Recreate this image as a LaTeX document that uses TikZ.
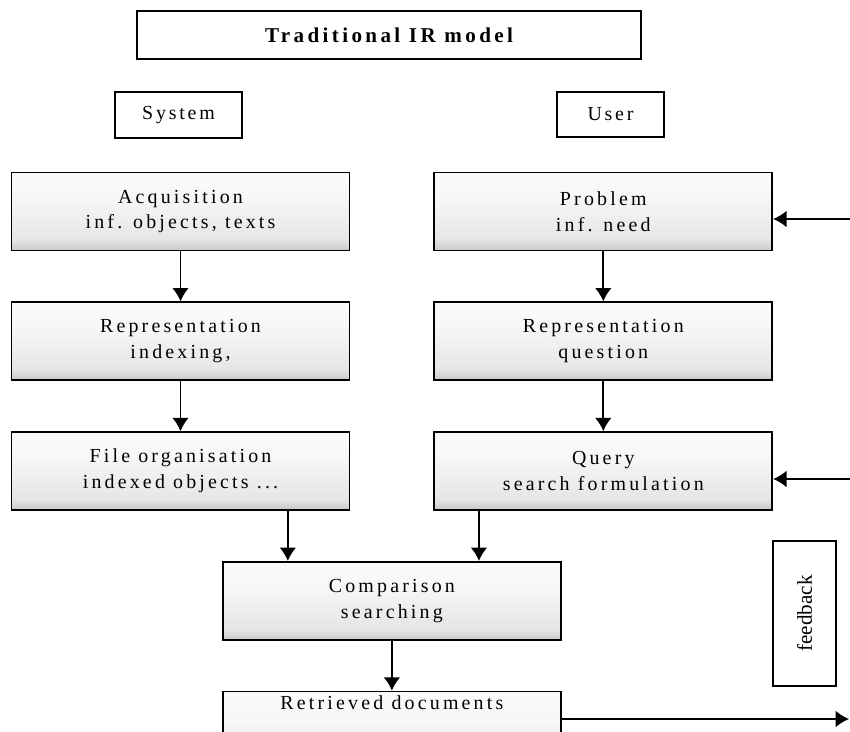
\documentclass[tikz,border=0pt]{standalone}
\usepackage{fontspec}
\setmainfont{Liberation Serif}
\usetikzlibrary{arrows,arrows.meta,positioning,calc}
\pgfdeclareverticalshading{speckle}{100bp}{color(0bp)=(black!60); color(15bp)=(black!38);
  color(32bp)=(black!10); color(60bp)=(black!3); color(100bp)=(white)}

\begin{document}
\begin{tikzpicture}[x=0.03cm,y=-0.03cm,node distance=1.5cm,
  >={Latex[length=4mm,width=5mm]},line width=1.5pt]
  \tikzstyle{heading}=[rectangle,draw=black,fill=white,line width=1.5pt,
    font=\fontsize{17}{20}\selectfont\addfontfeature{LetterSpace=14}]
  \tikzstyle{stage}=[rectangle,draw=black,line width=1.5pt,shade,shading=speckle,
    minimum width=10.14cm,minimum height=2.34cm,align=center,
    font=\fontsize{17}{22}\selectfont\addfontfeature{LetterSpace=16}]

  \path[use as bounding box,clip] (0,0) rectangle (850,731);

  % headings
  \node[heading,minimum width=15.12cm,minimum height=1.44cm,
    font=\fontsize{18}{22}\selectfont\bfseries\addfontfeature{LetterSpace=16}]
    (title) at (389,35) {Traditional IR model};
  \node[heading,minimum width=3.81cm,minimum height=1.38cm] (system) at (178.5,115) {System};
  \node[heading,minimum width=3.21cm,minimum height=1.35cm] (user) at (610.5,114.5) {User};

  % the two columns
  \node[stage] (acq) at (180.5,211.5) {Acquisition\\inf. objects, texts};
  \node[stage,right=2.49cm of acq] (problem) {Problem\\inf. need};
  \node[stage,below=of acq] (replft) {Representation\\indexing,};
  \node[stage,below=of problem] (reprgt) {Representation\\question};
  \node[stage,below=of replft] (fileorg) {File organisation\\indexed objects ...};
  \node[stage,below=of reprgt] (query) {Query\\search formulation};

  \coordinate (mid) at ($(fileorg.south)!0.5!(query.south)$);
  \node[stage,below=of mid] (compare) {Comparison\\searching};
  \node[stage,below=of compare,text depth=2cm] (retrieved) {Retrieved documents};

  \node[heading,rotate=90,minimum width=4.35cm,minimum height=1.89cm,
    font=\fontsize{18}{20}\selectfont] (feedback) at (804.5,613.5) {feedback};

  \draw[->] (acq) -- (replft);
  \draw[->] (replft) -- (fileorg);
  \draw[->] (problem) -- (reprgt);
  \draw[->] (reprgt) -- (query);
  \draw[->] ([xshift=3.22cm]fileorg.south) -- ([xshift=3.22cm]fileorg.south |- compare.north);
  \draw[->] ([xshift=-3.73cm]query.south) -- ([xshift=-3.73cm]query.south |- compare.north);
  \draw[->] (compare) -- (retrieved);

  % feedback loop
  \coordinate (fbin1) at (850,219);
  \coordinate (fbin2) at (850,479);
  \coordinate (fbout) at (849,719);
  \draw[->] (fbin1) -- (fbin1 -| problem.east);
  \draw[->] (fbin2) -- (fbin2 -| query.east);
  \draw[->] (retrieved.east |- fbout) -- (fbout);
\end{tikzpicture}
\end{document}
